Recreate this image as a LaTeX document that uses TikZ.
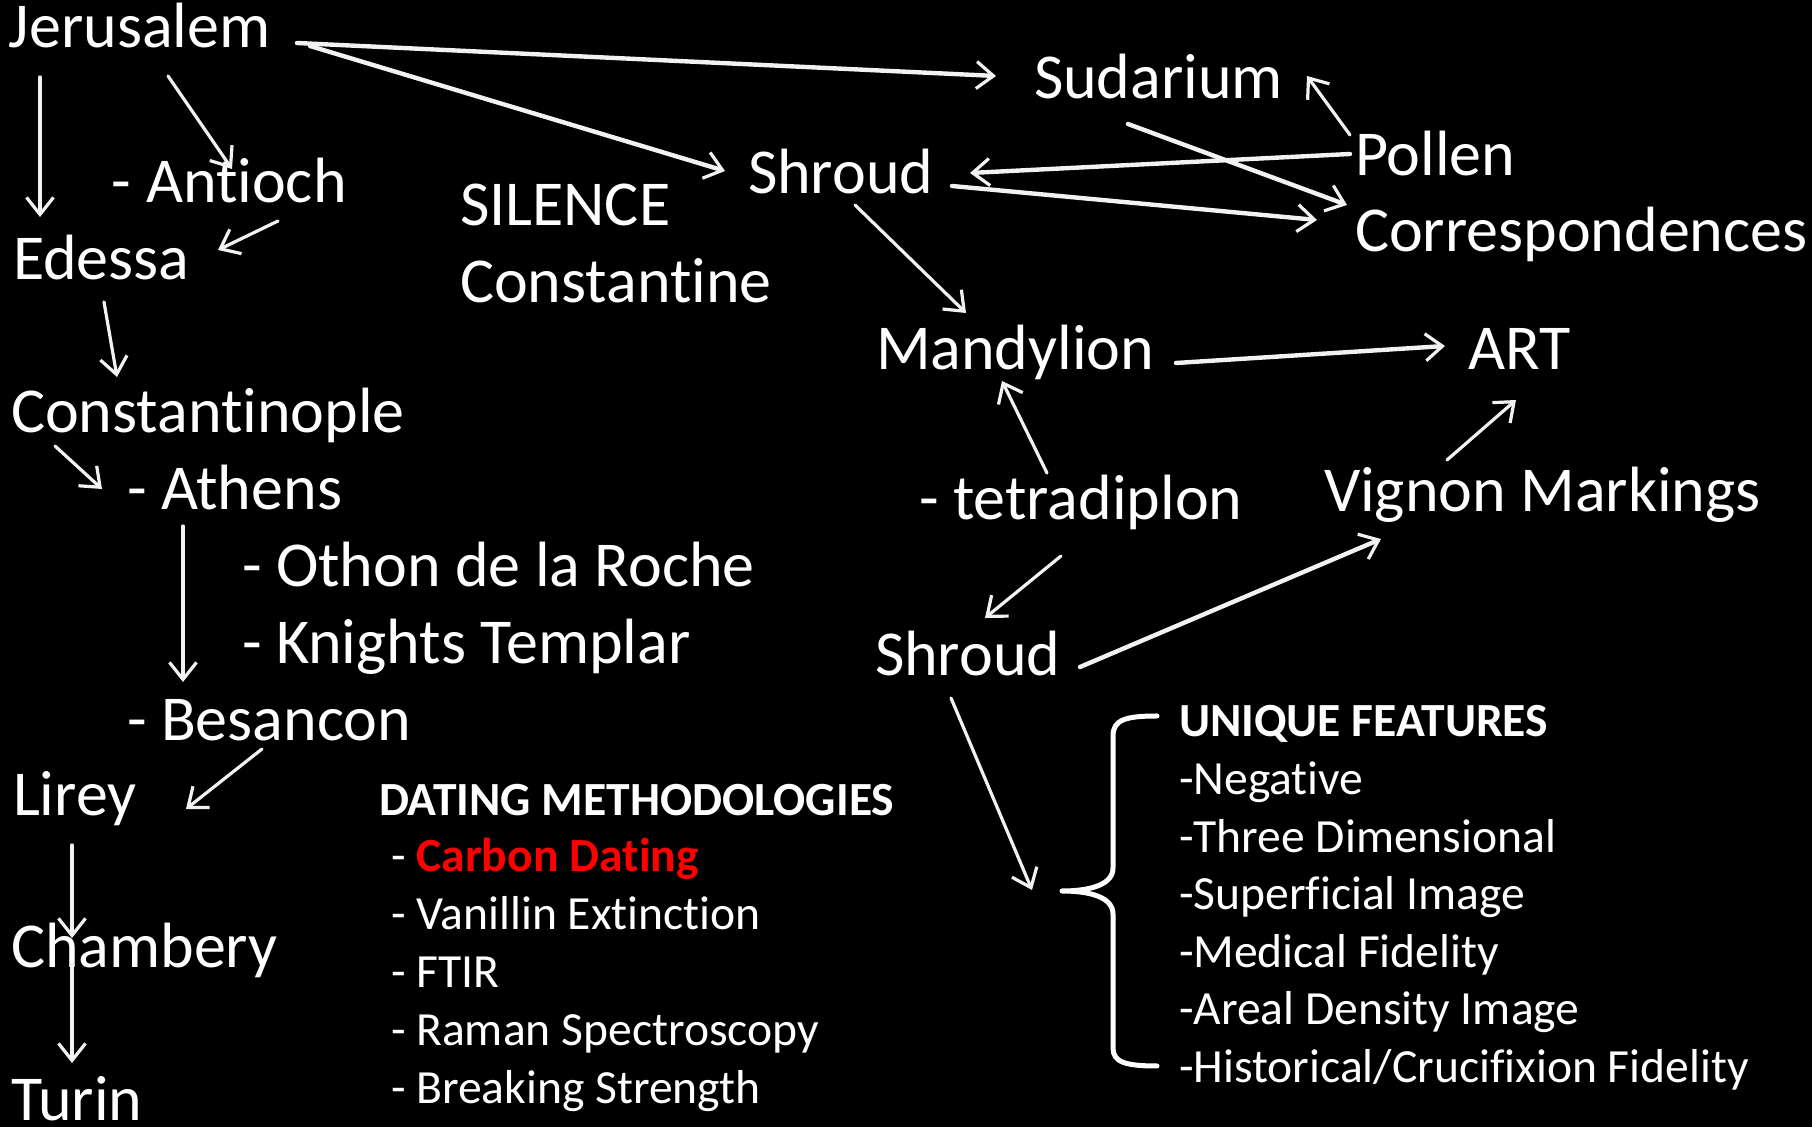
\documentclass[tikz,border=0pt]{standalone}
\usepackage{fontspec}
\setmainfont{Carlito}[Ligatures=NoCommon]
\usetikzlibrary{arrows.meta}
\definecolor{linecol}{HTML}{F2F2F2}
\definecolor{carbonred}{HTML}{FF0000}
\begin{document}
\begin{tikzpicture}[x=0.5pt,y=-0.5pt,
  lbl/.style={anchor=base west, inner sep=0pt, outer sep=0pt, text=white,
    font=\fontsize{32}{38}\selectfont},
  sub/.style={anchor=base west, inner sep=0pt, outer sep=0pt, text=white,
    font=\fontsize{23.8}{28}\selectfont},
  subhead/.style={sub, font=\fontsize{23.8}{28}\selectfont\bfseries},
  arr/.style={draw=linecol, line width=1.6pt, line cap=round,
    -{Straight Barb[length=8.5pt,width=13.5pt,line width=1.6pt]}},
  arrthick/.style={arr, line width=2.2pt},
  bracestyle/.style={draw=white, line width=2.5pt, line cap=round, line join=round}]

% background and page size
\fill[black] (0,0) rectangle (1812,1127);
\useasboundingbox (0,0) rectangle (1812,1127);

% route of the cloth
\node[lbl] (jer) at (9,48)    {Jerusalem};
\node[lbl] (ant) at (112,203) {- Antioch};
\node[lbl] (ede) at (13,280)  {Edessa};
\node[lbl] (con) at (11,433)  {Constantinople};
\node[lbl] (ath) at (127,510) {- Athens};
\node[lbl] (oth) at (242,587) {- Othon de la Roche};
\node[lbl] (kni) at (242,664) {- Knights Templar};
\node[lbl] (bes) at (127,741) {- Besancon};
\node[lbl] (lir) at (13,816)  {Lirey};
\node[lbl] (cha) at (11,968)  {Chambery};
\node[lbl] (tur) at (11,1121) {Turin};

\node[lbl] (sil) at (460,226) {SILENCE};
\node[lbl] (cst) at (460,303) {Constantine};

% relics and evidence
\node[lbl] (shr) at (748,194)  {Shroud};
\node[lbl] (sud) at (1034,99)  {Sudarium};
\node[lbl] (pol) at (1355,176) {Pollen};
\node[lbl] (cor) at (1355,252) {Correspondences};
\node[lbl] (man) at (876,370)  {Mandylion};
\node[lbl] (art) at (1468,370) {ART};
\node[lbl] (tet) at (919,520)  {- tetradiplon};
\node[lbl] (vig) at (1324,512) {Vignon Markings};
\node[lbl] (shb) at (875,676)  {Shroud};

% dating methods
\node[subhead] (dat) at (379,816) {DATING METHODOLOGIES};
\node[sub] (dm1) at (391,872)  {- \textcolor{carbonred}{\bfseries Carbon Dating}};
\node[sub] (dm2) at (391,930)  {- Vanillin Extinction};
\node[sub] (dm3) at (391,988)  {- FTIR};
\node[sub] (dm4) at (391,1046) {- Raman Spectroscopy};
\node[sub] (dm5) at (391,1104) {- Breaking Strength};

% unique features
\node[subhead] (uf)  at (1179,737)  {UNIQUE FEATURES};
\node[sub] (uf1) at (1179,795)  {-Negative};
\node[sub] (uf2) at (1179,853)  {-Three Dimensional};
\node[sub] (uf3) at (1179,910)  {-Superficial Image};
\node[sub] (uf4) at (1179,968)  {-Medical Fidelity};
\node[sub] (uf5) at (1179,1025) {-Areal Density Image};
\node[sub] (uf6) at (1179,1083) {-Historical/Crucifixion Fidelity};

% brace gathering the features
\coordinate (brt) at (1062,891);
\draw[bracestyle] (1157,716) .. controls (1125,716) and (1113,720) .. (1113,736)
  -- (1113,868) .. controls (1113,884) and (1092,891) .. (brt)
  .. controls (1092,891) and (1113,898) .. (1113,914)
  -- (1113,1048) .. controls (1113,1062) and (1125,1066) .. (1157,1066);

% connectors
\draw[arrthick] ([shift={(288,-5)}]jer.base west) -- ([shift={(-38,-23)}]sud.base west);
\draw[arrthick] ([shift={(301,-2)}]jer.base west) -- ([shift={(-23,-23)}]shr.base west);
\draw[arr] ([shift={(31,29)}]jer.base west) -- ([shift={(27,-63)}]ede.base west);
\draw[arr] ([shift={(159,28)}]jer.base west) -- ([shift={(120,-34)}]ant.base west);
\draw[arr] ([shift={(166,18)}]ant.base west) -- ([shift={(205,-30)}]ede.base west);
\draw[arr] ([shift={(91,22)}]ede.base west) -- ([shift={(106,-56)}]con.base west);
\draw[arr] ([shift={(44,13)}]con.base west) -- ([shift={(-25,-21)}]ath.base west);
\draw[arr] ([shift={(56,16)}]ath.base west) -- ([shift={(56,-59)}]bes.base west);
\draw[arr] ([shift={(135,8)}]bes.base west) -- ([shift={(173,-7)}]lir.base west);
\draw[arr] ([shift={(59,29)}]lir.base west) -- ([shift={(61,-30)}]cha.base west);
\draw[arr] ([shift={(61,-5)}]cha.base west) -- ([shift={(61,-58)}]tur.base west);

\draw[arr] ([shift={(-5,-41)}]pol.base west) -- ([shift={(273,-23)}]sud.base west);
\draw[arrthick] ([shift={(-5,-22)}]pol.base west) -- ([shift={(222,-21)}]shr.base west);
\draw[arrthick] ([shift={(94,25)}]sud.base west) -- ([shift={(-8,-47)}]cor.base west);
\draw[arrthick] ([shift={(204,-8)}]shr.base west) -- ([shift={(-38,-32)}]cor.base west);
\draw[arr] ([shift={(107,11)}]shr.base west) -- ([shift={(90,-57)}]man.base west);
\draw[arrthick] ([shift={(300,-7)}]man.base west) -- ([shift={(-23,-24)}]art.base west);
\draw[arr] ([shift={(128,-47)}]tet.base west) -- ([shift={(126,11)}]man.base west);
\draw[arr] ([shift={(123,-52)}]vig.base west) -- ([shift={(48,30)}]art.base west);
\draw[arr] ([shift={(142,36)}]tet.base west) -- ([shift={(110,-58)}]shb.base west);
\draw[arrthick] ([shift={(205,-9)}]shb.base west) -- ([shift={(57,27)}]vig.base west);
\draw[arr] ([shift={(76,22)}]shb.base west) -- ([shift={(-30,-1)}]brt);
\end{tikzpicture}
\end{document}
